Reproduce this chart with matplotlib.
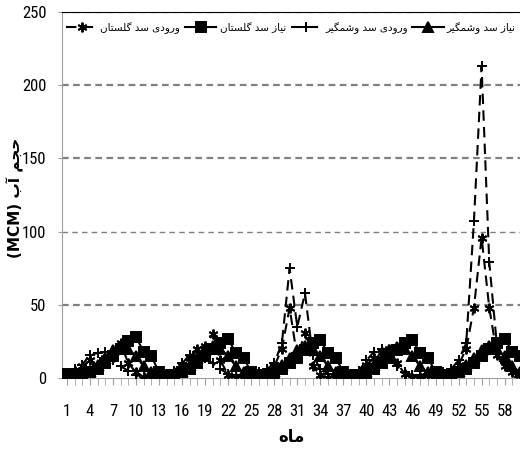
import matplotlib

matplotlib.use("Agg")
import matplotlib.font_manager as fm
import matplotlib.pyplot as plt
import numpy as np

# ---- data ----
months = np.arange(1, 61)
xtick_vals = list(range(1, 59, 3))

golestan_in = [2, 5, 8, 12, 6, 14, 16, 24, 10, 4, 1, 0,
               0, 2, 4, 8, 14, 20, 22, 30, 12, 2, 0, 1,
               1, 2, 3, 8, 20, 48, 14, 31, 8, 2, 0, 1,
               1, 2, 4, 9, 14, 18, 20, 10, 3, 0, 1, 2,
               2, 3, 5, 9, 20, 48, 96, 48, 16, 8, 4, 2]
golestan_dem = [3, 2, 2, 4, 6, 10, 15, 20, 25, 28, 18, 15,
                4, 2, 2, 4, 6, 10, 15, 20, 24, 27, 17, 14,
                4, 2, 2, 3, 6, 10, 14, 19, 24, 26, 17, 14,
                4, 2, 2, 3, 6, 10, 14, 19, 24, 26, 17, 14,
                4, 2, 2, 4, 6, 10, 15, 20, 24, 27, 18, 15]
voshmgir_in = [3, 6, 9, 16, 17, 18, 12, 8, 5, 2, 1, 1,
               2, 3, 5, 10, 16, 18, 14, 10, 6, 3, 2, 2,
               2, 4, 6, 10, 24, 75, 35, 58, 16, 6, 3, 2,
               2, 3, 5, 12, 18, 20, 15, 8, 4, 2, 2, 3,
               3, 4, 6, 12, 24, 107, 213, 79, 22, 10, 5, 3]
voshmgir_dem = [2, 2, 3, 5, 9, 14, 19, 22, 20, 15, 8, 4,
                2, 2, 3, 5, 9, 14, 19, 22, 20, 15, 8, 4,
                2, 2, 3, 5, 9, 14, 19, 22, 20, 15, 8, 4,
                2, 2, 3, 5, 9, 14, 19, 21, 20, 15, 8, 4,
                2, 2, 3, 5, 9, 14, 19, 22, 20, 15, 8, 4]

labels = ["ورودی سد گلستان", "نیاز سد گلستان", "ورودی سد وشمگیر", "نیاز سد وشمگیر"]
ylabel_fa = "حجم آب"
xlabel_fa = "ماه"

# ---- minimal Persian shaping (matplotlib has no RTL/joining support) ----
FORMS = {
    "ا": ("\uFE8D", "\uFE8E", None, None),
    "آ": ("\uFE81", "\uFE82", None, None),
    "ب": ("\uFE8F", "\uFE90", "\uFE91", "\uFE92"),
    "ت": ("\uFE95", "\uFE96", "\uFE97", "\uFE98"),
    "ج": ("\uFE9D", "\uFE9E", "\uFE9F", "\uFEA0"),
    "ح": ("\uFEA1", "\uFEA2", "\uFEA3", "\uFEA4"),
    "د": ("\uFEA9", "\uFEAA", None, None),
    "ر": ("\uFEAD", "\uFEAE", None, None),
    "ز": ("\uFEAF", "\uFEB0", None, None),
    "س": ("\uFEB1", "\uFEB2", "\uFEB3", "\uFEB4"),
    "ش": ("\uFEB5", "\uFEB6", "\uFEB7", "\uFEB8"),
    "ل": ("\uFEDD", "\uFEDE", "\uFEDF", "\uFEE0"),
    "م": ("\uFEE1", "\uFEE2", "\uFEE3", "\uFEE4"),
    "ن": ("\uFEE5", "\uFEE6", "\uFEE7", "\uFEE8"),
    "ه": ("\uFEE9", "\uFEEA", "\uFEEB", "\uFEEC"),
    "و": ("\uFEED", "\uFEEE", None, None),
    "ی": ("\uFBFC", "\uFBFD", "\uFBFE", "\uFBFF"),
    "گ": ("\uFB92", "\uFB93", "\uFB94", "\uFB95"),
}


def shape_fa(text):
    out = []
    for i, ch in enumerate(text):
        if ch not in FORMS:
            out.append(ch)
            continue
        prev = text[i - 1] if i > 0 else ""
        nxt = text[i + 1] if i + 1 < len(text) else ""
        join_prev = prev in FORMS and FORMS[prev][2] is not None
        join_next = nxt in FORMS and FORMS[ch][2] is not None
        iso, fin, ini, med = FORMS[ch]
        if join_prev and join_next:
            out.append(med)
        elif join_prev:
            out.append(fin)
        elif join_next:
            out.append(ini)
        else:
            out.append(iso)
    return "".join(out)[::-1]


# pick a condensed face for the numbers if one is installed
installed = {f.name for f in fm.fontManager.ttflist}
num_font, num_size = "DejaVu Sans", 10
for cand in ["Liberation Sans Narrow", "DejaVu Sans Condensed", "Roboto Condensed"]:
    if cand in installed:
        num_font, num_size = cand, 12
        break

# ---- plot ----
fig = plt.figure(figsize=(5.2, 4.49), dpi=100)
ax = fig.add_axes([0.119, 0.158, 0.881, 0.815])

for y in [50, 100, 150, 200, 250]:
    ax.axhline(y, color="#808080", lw=1.6 if y != 100 else 1.0,
               ls=(0, (3, 2)) if y != 100 else (0, (4, 3)), zorder=1)

kw = dict(color="black", lw=1.5, markersize=7, mec="black", mfc="black",
          mew=1.4, zorder=3)
ax.plot(months, golestan_in, ls=(0, (5, 3)), marker=(6, 2, 0),
        label=shape_fa(labels[0]), **kw)
ax.plot(months, golestan_dem, ls="-", marker="s", label=shape_fa(labels[1]), **kw)
ax.plot(months, voshmgir_in, ls=(0, (5, 3)), marker="+",
        label=shape_fa(labels[2]), **kw)
ax.plot(months, voshmgir_dem, ls="-", marker="^", label=shape_fa(labels[3]), **kw)

ax.set_xlim(0.35, 59.7)
ax.set_ylim(0, 250)
ax.set_yticks([0, 50, 100, 150, 200, 250])
ax.set_xticks(xtick_vals)
ax.set_xticks(months, minor=True)
ax.tick_params(axis="x", which="both", direction="out", length=5,
               color="#a0a0a0", labelsize=num_size, pad=14)
ax.tick_params(axis="y", direction="out", length=3, color="#a0a0a0",
               labelsize=num_size, pad=8)
for lab in ax.get_xticklabels() + ax.get_yticklabels():
    lab.set_family(num_font)
    if num_font == "DejaVu Sans":
        lab.set_fontstretch("condensed")

ax.spines["right"].set_visible(False)
ax.spines["top"].set_color("black")
ax.spines["left"].set_color("#a0a0a0")
ax.spines["bottom"].set_color("#a0a0a0")

ax.set_xlabel(shape_fa(xlabel_fa), fontsize=12, fontweight="bold",
              family="DejaVu Sans", labelpad=6)
fig.text(0.03, 0.56, "(MCM) " + shape_fa(ylabel_fa), rotation=90,
         fontsize=11, fontweight="bold", family="DejaVu Sans",
         ha="center", va="center")

ax.legend(loc="upper left", bbox_to_anchor=(0.0, 0.985, 1.0, 0.0), ncol=4,
          mode="expand", frameon=False, fontsize=7.5, handlelength=3.0,
          columnspacing=0.5, handletextpad=0.3, borderaxespad=0.2,
          borderpad=0.2)

plt.savefig("out.png", dpi=100)
